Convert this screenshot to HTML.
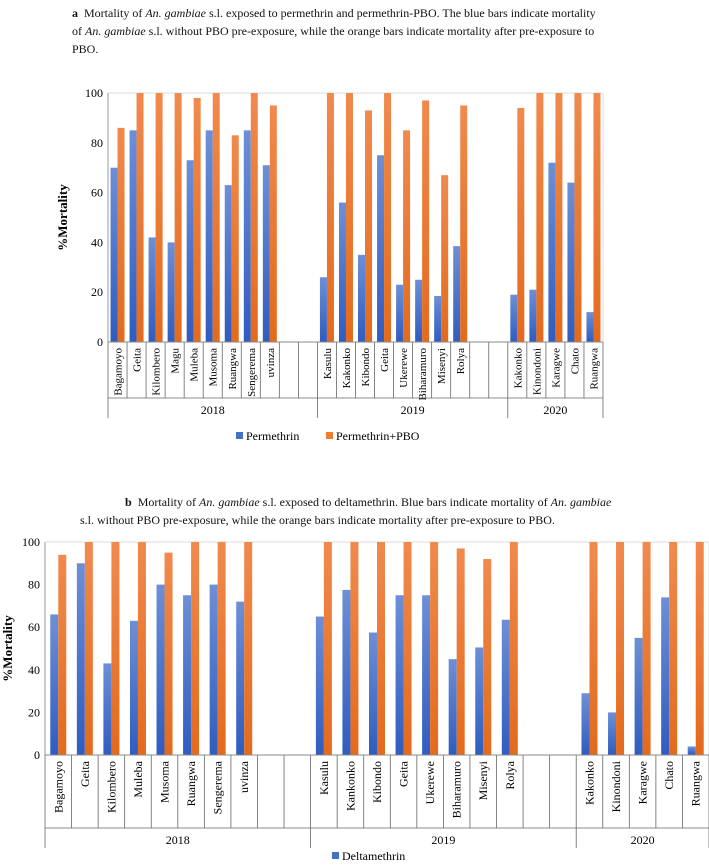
<!DOCTYPE html>
<html><head><meta charset="utf-8"><style>
body{margin:0;background:#fff;width:709px;height:865px;overflow:hidden;position:relative;font-family:"Liberation Serif",serif;}
.cap{position:absolute;font-size:12px;line-height:18px;color:#111;}
svg{position:absolute;left:0;top:0}
</style></head><body>
<div class="cap" style="left:72px;top:4px;width:530px"><b>a</b>&nbsp; Mortality of <i>An. gambiae</i> s.l. exposed to permethrin and permethrin-PBO. The blue bars indicate mortality of <i>An. gambiae</i> s.l. without PBO pre-exposure, while the orange bars indicate mortality after pre-exposure to PBO.</div>
<div class="cap" style="left:80px;top:493px;width:548px;text-indent:45px"><b>b</b>&nbsp; Mortality of <i>An. gambiae</i> s.l. exposed to deltamethrin. Blue bars indicate mortality of <i>An. gambiae</i> s.l. without PBO pre-exposure, while the orange bars indicate mortality after pre-exposure to PBO.</div>
<svg id="s" width="709" height="865"></svg>
<script>
const catsA=["Bagamoyo","Geita","Kilombero","Magu","Muleba","Musoma","Ruangwa","Sengerema","uvinza","","","Kasulu","Kakonko","Kibondo","Geita","Ukerewe","Biharamuro","Misenyi","Rolya","","","Kakonko","Kinondoni","Karagwe","Chato","Ruangwa"];
const blueA=[70,85,42,40,73,85,63,85,71,null,null,26,56,35,75,23,25,18.5,38.5,null,null,19,21,72,64,12];
const orangeA=[86,100,100,100,98,100,83,100,95,null,null,100,100,93,100,85,97,67,95,null,null,94,100,100,100,100];
const yearsA=[["2018",0,11],["2019",11,21],["2020",21,26]];
const catsB=["Bagamoyo","Geita","Kilombero","Muleba","Musoma","Ruangwa","Sengerema","uvinza","","","Kasulu","Kankonko","Kibondo","Geita","Ukerewe","Biharamuro","Misenyi","Rolya","","","Kakonko","Kinondoni","Karagwe","Chato","Ruangwa"];
const blueB=[66,90,43,63,80,75,80,72,null,null,65,77.5,57.5,75,75,45,50.5,63.5,null,null,29,20,55,74,4];
const orangeB=[94,100,100,100,95,100,100,100,null,null,100,100,100,100,100,97,92,100,null,null,100,100,100,100,100];
const yearsB=[["2018",0,10],["2019",10,20],["2020",20,25]];
const ticks=[0,20,40,60,80,100];
const S=document.getElementById('s');const NS="http://www.w3.org/2000/svg";
function mk(t,a,txt){const e=document.createElementNS(NS,t);for(const k in a)e.setAttribute(k,a[k]);if(txt!==undefined)e.textContent=txt;S.appendChild(e);return e;}
const defs=mk('defs',{});
defs.innerHTML='<linearGradient id="gb" x1="0" y1="0" x2="0" y2="1"><stop offset="0" stop-color="#6d8fd6"/><stop offset="1" stop-color="#2f5cc0"/></linearGradient><linearGradient id="go" x1="0" y1="0" x2="0" y2="1"><stop offset="0" stop-color="#f08a4d"/><stop offset="1" stop-color="#e46a1c"/></linearGradient>';
function chart(id,cats,blue,orange,years,x0,x1,yTop,y0,bw,labBot,yearY,ylabX,lfs){
  const n=cats.length,step=(x1-x0)/n;
  const y=v=>y0-(v/100)*(y0-yTop);
  ticks.forEach(t=>{const e=mk('text',{x:x0-5,y:y(t)+4,'text-anchor':'end','font-size':12,'font-family':'Liberation Serif'},t);
    });
  const yt=mk('text',{x:ylabX,y:(yTop+y0)/2,'text-anchor':'middle','font-size':13,'font-weight':'bold','font-family':'Liberation Serif',transform:`rotate(-90 ${ylabX} ${(yTop+y0)/2})`},'%Mortality');
  
  mk('line',{x1:x0,y1:yTop,x2:x0,y2:y0,stroke:'#999'});
  mk('line',{x1:x0,y1:yTop,x2:x1,y2:yTop,stroke:'#ddd'});
  mk('line',{x1:x1,y1:yTop,x2:x1,y2:y0,stroke:'#ddd'});
  cats.forEach((c,i)=>{
    const cx=x0+step*(i+0.5);
    if(blue[i]!=null){const r=mk('rect',{x:cx-bw,y:y(blue[i]),width:bw,height:y0-y(blue[i]),fill:'url(#gb)'});
      }
    if(orange[i]!=null){const r=mk('rect',{x:cx,y:y(orange[i]),width:bw,height:y0-y(orange[i]),fill:'url(#go)'});
      }
    if(c){const t=mk('text',{x:cx+4,y:y0+6,'text-anchor':'end','font-size':lfs,'font-family':'Liberation Serif',transform:`rotate(-90 ${cx+4} ${y0+6})`},c);
      }
    mk('line',{x1:x0+step*i,y1:y0,x2:x0+step*i,y2:labBot,stroke:'#666','stroke-width':0.8});
  });
  mk('line',{x1:x1,y1:y0,x2:x1,y2:labBot,stroke:'#666','stroke-width':0.8});
  mk('line',{x1:x0,y1:y0,x2:x1,y2:y0,stroke:'#888'});
  mk('line',{x1:x0,y1:labBot,x2:x1,y2:labBot,stroke:'#666','stroke-width':0.8});
  years.forEach(([yr,a,b])=>{
    mk('line',{x1:x0+step*a,y1:labBot,x2:x0+step*a,y2:yearY+8,stroke:'#666','stroke-width':0.8});
    const t=mk('text',{x:x0+step*(a+b)/2,y:yearY+4,'text-anchor':'middle','font-size':12,'font-family':'Liberation Serif'},yr);
    
  });
  mk('line',{x1:x1,y1:labBot,x2:x1,y2:yearY+8,stroke:'#666','stroke-width':0.8});
}
chart('chart-a',catsA,blueA,orangeA,yearsA,108,603,93,342,7,398,410,67,11);
chart('chart-b',catsB,blueB,orangeB,yearsB,45,709,542,755,8,828,840,12,12);
function leg(x,y,fill,label,name){const r=mk('rect',{x:x,y:y-8,width:7,height:7,fill:fill});
  
  const t=mk('text',{x:x+10,y:y,'font-size':12,'font-family':'Liberation Serif'},label);
  }
leg(236,440,'#4472c4','Permethrin','legend-permethrin');
leg(326,440,'#ed7d31','Permethrin+PBO','legend-permethrin-pbo');
leg(332,860,'#4472c4','Deltamethrin','legend-deltamethrin');
</script>
</body></html>
